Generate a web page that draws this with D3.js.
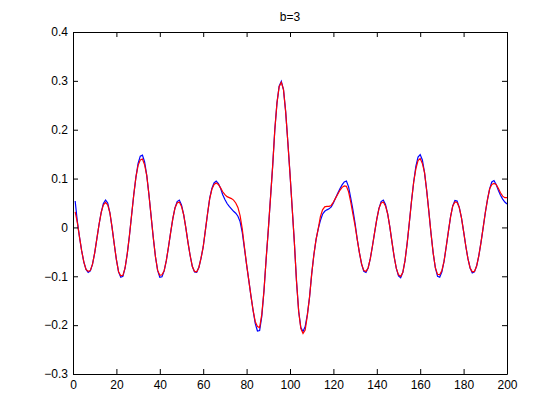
<!DOCTYPE html>
<html>
<head>
<meta charset="utf-8">
<script src="https://cdn.jsdelivr.net/npm/d3@7"></script>
<style>
  html, body { margin: 0; padding: 0; background: #ffffff; }
  svg { display: block; }
  text { font-family: "Liberation Sans", Arial, Helvetica, sans-serif; }
</style>
</head>
<body>
<svg id="chart" width="560" height="420"></svg>
<script>
const title = "b=3";
const xTicks = [0, 20, 40, 60, 80, 100, 120, 140, 160, 180, 200];
const yTicks = [-0.3, -0.2, -0.1, 0, 0.1, 0.2, 0.3, 0.4];
const xDomain = [0, 200];
const yDomain = [-0.3, 0.4];

// samples at x = 1..200
const sampleX = d3.range(1, 201);

const blue = [
 0.054, 0.012,-0.020,-0.048,-0.071,-0.086,-0.092,-0.089,-0.075,-0.052,
-0.023, 0.006, 0.031, 0.049, 0.056, 0.050, 0.030, 0.000,-0.034,-0.066,
-0.091,-0.102,-0.100,-0.083,-0.054,-0.017, 0.025, 0.067, 0.103, 0.131,
 0.146, 0.148, 0.134, 0.106, 0.067, 0.023,-0.021,-0.060,-0.088,-0.102,
-0.101,-0.089,-0.068,-0.040,-0.010, 0.018, 0.040, 0.053, 0.056, 0.046,
 0.026,-0.001,-0.031,-0.058,-0.080,-0.091,-0.092,-0.082,-0.063,-0.040,
-0.006, 0.028, 0.060, 0.080, 0.091, 0.095, 0.090, 0.080, 0.067, 0.057,
 0.049, 0.043, 0.038, 0.033, 0.029, 0.023, 0.012,-0.010,-0.043,-0.076,
-0.108,-0.140,-0.170,-0.197,-0.212,-0.211,-0.182,-0.130,-0.065,-0.005,
 0.060, 0.125, 0.200, 0.255, 0.289, 0.299, 0.282, 0.237, 0.175, 0.110,
 0.040,-0.030,-0.110,-0.172,-0.205,-0.213,-0.203,-0.178,-0.143,-0.095,
-0.056,-0.025,-0.003, 0.014, 0.027, 0.033, 0.036, 0.038, 0.042, 0.050,
 0.060, 0.070, 0.079, 0.087, 0.093, 0.095, 0.083, 0.060, 0.036, 0.008,
-0.025,-0.052,-0.075,-0.090,-0.092,-0.083,-0.064,-0.038,-0.010, 0.017,
 0.039, 0.053, 0.056, 0.047, 0.028, 0.001,-0.030,-0.060,-0.084,-0.099,
-0.103,-0.092,-0.068,-0.032, 0.010, 0.054, 0.093, 0.125, 0.144, 0.149,
 0.138, 0.112, 0.075, 0.032,-0.013,-0.053,-0.083,-0.100,-0.102,-0.091,
-0.069,-0.039,-0.008, 0.022, 0.044, 0.055, 0.054, 0.041, 0.020,-0.008,
-0.038,-0.064,-0.083,-0.093,-0.091,-0.079,-0.058,-0.031,-0.001, 0.030,
 0.057, 0.079, 0.093, 0.096, 0.088, 0.076, 0.066, 0.058, 0.052, 0.048
];

const red = [
 0.032, 0.010,-0.020,-0.048,-0.071,-0.086,-0.090,-0.088,-0.075,-0.052,
-0.023, 0.006, 0.031, 0.046, 0.051, 0.046, 0.030, 0.000,-0.034,-0.066,
-0.091,-0.099,-0.098,-0.083,-0.054,-0.017, 0.025, 0.067, 0.103, 0.127,
 0.138, 0.140, 0.128, 0.106, 0.067, 0.023,-0.021,-0.060,-0.088,-0.098,
-0.097,-0.089,-0.068,-0.040,-0.010, 0.018, 0.040, 0.050, 0.052, 0.043,
 0.026,-0.001,-0.031,-0.058,-0.080,-0.090,-0.091,-0.082,-0.063,-0.040,
-0.006, 0.028, 0.059, 0.078, 0.088, 0.091, 0.088, 0.081, 0.073, 0.067,
 0.063, 0.061, 0.059, 0.056, 0.050, 0.041, 0.024,-0.003,-0.040,-0.076,
-0.108,-0.140,-0.170,-0.193,-0.203,-0.205,-0.178,-0.130,-0.065,-0.005,
 0.060, 0.125, 0.200, 0.255, 0.288, 0.297, 0.282, 0.237, 0.175, 0.110,
 0.040,-0.030,-0.110,-0.172,-0.207,-0.217,-0.210,-0.180,-0.143,-0.095,
-0.056,-0.025,-0.003, 0.022, 0.036, 0.042, 0.043, 0.043, 0.045, 0.052,
 0.060, 0.068, 0.076, 0.082, 0.085, 0.084, 0.073, 0.052, 0.027, 0.003,
-0.025,-0.052,-0.075,-0.088,-0.090,-0.083,-0.064,-0.038,-0.010, 0.017,
 0.039, 0.050, 0.052, 0.044, 0.028, 0.001,-0.030,-0.060,-0.084,-0.097,
-0.100,-0.092,-0.068,-0.032, 0.010, 0.054, 0.093, 0.120, 0.137, 0.141,
 0.131, 0.112, 0.075, 0.032,-0.013,-0.053,-0.083,-0.096,-0.097,-0.088,
-0.069,-0.039,-0.008, 0.022, 0.044, 0.052, 0.051, 0.041, 0.020,-0.008,
-0.038,-0.064,-0.083,-0.091,-0.090,-0.079,-0.058,-0.031,-0.001, 0.030,
 0.057, 0.079, 0.088, 0.090, 0.088, 0.080, 0.071, 0.064, 0.061, 0.061
];

const margin = { left: 73, top: 32, right: 53, bottom: 46 };
const W = 560, H = 420;
const iw = W - margin.left - margin.right;
const ih = H - margin.top - margin.bottom;

const svg = d3.select("#chart");
svg.append("rect").attr("width", W).attr("height", H).attr("fill", "#ffffff");

const g = svg.append("g").attr("transform", `translate(${margin.left},${margin.top})`);

const x = d3.scaleLinear().domain(xDomain).range([0, iw]);
const y = d3.scaleLinear().domain(yDomain).range([ih, 0]);

const fontSize = 12;

const line = d3.line().x((d, i) => x(sampleX[i])).y(d => y(d));

g.append("path").datum(blue)
  .attr("fill", "none").attr("stroke", "#0000ff").attr("stroke-width", 1.2)
  .attr("d", line);
g.append("path").datum(red)
  .attr("fill", "none").attr("stroke", "#ff0000").attr("stroke-width", 1.2)
  .attr("d", line);

function styleAxis(sel) {
  sel.selectAll("path.domain").attr("stroke", "#000").attr("stroke-width", 1);
  sel.selectAll(".tick line").attr("stroke", "#000").attr("stroke-width", 1);
  sel.selectAll("text").attr("fill", "#000").attr("font-size", fontSize)
    .style("font-family", '"Liberation Sans", Arial, Helvetica, sans-serif');
}

const fmt = d => (Math.abs(d) < 1e-9 ? "0" : d3.format("")(+d.toFixed(1)));

g.append("g").attr("transform", `translate(0,${ih})`)
  .call(d3.axisBottom(x).tickValues(xTicks).tickSizeInner(-5).tickSizeOuter(0).tickPadding(6).tickFormat(d3.format("d")))
  .call(styleAxis);
g.append("g")
  .call(d3.axisTop(x).tickValues(xTicks).tickSizeInner(-5).tickSizeOuter(0).tickFormat(""))
  .call(styleAxis);
g.append("g")
  .call(d3.axisLeft(y).tickValues(yTicks).tickSizeInner(-5).tickSizeOuter(0).tickPadding(5).tickFormat(fmt))
  .call(styleAxis);
g.append("g").attr("transform", `translate(${iw},0)`)
  .call(d3.axisRight(y).tickValues(yTicks).tickSizeInner(-5).tickSizeOuter(0).tickFormat(""))
  .call(styleAxis);

svg.append("text")
  .attr("x", margin.left + iw / 2)
  .attr("y", 21)
  .attr("text-anchor", "middle")
  .attr("font-size", fontSize)
  .attr("fill", "#000")
  .text(title);
</script>
</body>
</html>
